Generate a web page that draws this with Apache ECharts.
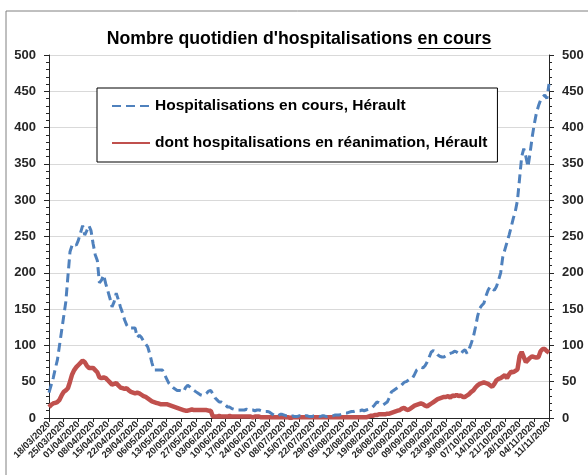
<!DOCTYPE html>
<html>
<head>
<meta charset="utf-8">
<script src="https://cdn.jsdelivr.net/npm/echarts@6/dist/echarts.min.js"></script>
<style>
html, body { margin: 0; padding: 0; background: #fff; }
#chart { width: 588px; height: 475px; }
</style>
</head>
<body>
<div id="chart"></div>
<script>
// daily values, 18/03/2020 -> 11/11/2020
var startDate = '2020-03-18';
var nbDays = 239;

var hospit = [
  35, 45, 55, 68, 80, 100, 120, 140, 160, 195,
  229, 238, 240, 238, 245, 255, 265, 252, 258, 265,
  258, 240, 225, 217, 186, 190, 197, 185, 175, 165,
  153, 160, 172, 163, 153, 145, 135, 128, 124, 124,
  124, 124, 111, 114, 111, 106, 102, 98, 88, 76,
  66, 66, 66, 66, 66, 60, 54, 48, 45, 42,
  40, 38, 38, 37, 36, 42, 45, 43, 40, 38,
  36, 34, 32, 31, 32, 34, 37, 38, 33, 28,
  25, 22, 22, 20, 18, 15, 15, 13, 12, 12,
  11, 11, 11, 11, 12, 11, 11, 11, 10, 11,
  11, 10, 10, 9, 9, 8, 6, 4, 3, 3,
  5, 5, 4, 3, 3, 2, 3, 2, 2, 3,
  3, 2, 3, 3, 2, 2, 3, 3, 3, 2,
  3, 3, 2, 3, 3, 3, 4, 4, 4, 5,
  6, 7, 7, 8, 9, 9, 10, 10, 10, 11,
  10, 11, 12, 14, 15, 18, 22, 21, 19, 18,
  20, 22, 28, 36, 38, 40, 42, 43, 46, 49,
  50, 52, 54, 55, 60, 66, 68, 70, 69, 72,
  77, 84, 91, 93, 90, 87, 85, 84, 84, 86,
  88, 89, 90, 92, 91, 89, 88, 92, 94, 89,
  95, 103, 112, 125, 140, 151, 155, 158, 168, 176,
  181, 178, 176, 181, 190, 200, 222, 232, 242, 252,
  263, 275, 285, 300, 330, 360, 371, 360, 346, 365,
  387, 405, 420, 430, 438, 442, 445, 440, 460
];

var reanim = [
  15, 18, 20, 21, 22, 25, 31, 36, 38, 41,
  50, 60, 66, 70, 73, 76, 79, 77, 72, 69,
  69, 69, 66, 63, 56, 55, 56, 55, 52, 49,
  46, 47, 48, 45, 42, 41, 40, 41, 38, 36,
  35, 34, 35, 34, 32, 30, 29, 27, 25, 23,
  22, 21, 20, 19, 19, 19, 19, 18, 17, 16,
  15, 14, 13, 12, 11, 10, 10, 11, 12, 11,
  11, 11, 11, 11, 11, 11, 10, 10, 2, 2,
  2, 3, 2, 2, 2, 2, 3, 2, 2, 2,
  2, 2, 2, 2, 2, 2, 2, 1, 2, 2,
  2, 1, 1, 1, 1, 1, 1, 1, 1, 1,
  1, 1, 1, 1, 1, 0, 1, 1, 1, 1,
  1, 1, 1, 1, 1, 1, 1, 1, 1, 1,
  1, 1, 1, 1, 1, 1, 1, 1, 1, 1,
  1, 1, 1, 1, 1, 1, 1, 1, 1, 1,
  1, 1, 2, 3, 3, 4, 4, 5, 5, 5,
  5, 6, 6, 7, 8, 9, 10, 11, 13, 14,
  12, 11, 13, 15, 17, 18, 19, 20, 19, 17,
  16, 18, 20, 22, 24, 26, 27, 28, 29, 29,
  30, 28, 31, 30, 32, 30, 31, 29, 29, 31,
  33, 36, 38, 42, 45, 47, 48, 49, 48, 47,
  45, 43, 47, 52, 54, 55, 57, 59, 55, 60,
  64, 63, 65, 67, 85, 91, 84, 77, 80, 83,
  85, 84, 83, 84, 92, 95, 95, 92, 90
];

var yTicks = [0, 50, 100, 150, 200, 250, 300, 350, 400, 450, 500];

var titleA = "Nombre quotidien d'hospitalisations ";
var titleB = 'en cours';
var nameHospit = 'Hospitalisations en cours, Hérault';
var nameReanim = 'dont hospitalisations en réanimation, Hérault';

function pad(n) { return n < 10 ? '0' + n : '' + n; }
var dates = [];
var d0 = new Date(startDate + 'T12:00:00Z');
for (var i = 0; i < nbDays; i++) {
  var d = new Date(d0.getTime() + i * 86400000);
  dates.push(pad(d.getUTCDate()) + '/' + pad(d.getUTCMonth() + 1) + '/' + d.getUTCFullYear());
}

// title sized so it spans roughly the same width as the original
var fontFam = '"Liberation Sans", Arial, sans-serif';
var cv = document.createElement('canvas').getContext('2d');
cv.font = 'bold 100px ' + fontFam;
var titleSize = Math.min(18, 100 * 385 / cv.measureText(titleA + titleB).width);
cv.font = 'bold ' + titleSize + 'px ' + fontFam;
var wA = cv.measureText(titleA).width;
var wB = cv.measureText(titleB).width;
var titleLeft = 299 - (wA + wB) / 2;

var chart = echarts.init(document.getElementById('chart'));

var yAxisCommon = {
  type: 'value',
  min: yTicks[0],
  max: yTicks[yTicks.length - 1],
  interval: 50,
  axisLine: { show: true, lineStyle: { color: '#262626', width: 1 } },
  axisTick: { show: true, length: 5, lineStyle: { color: '#262626' } },
  minorTick: { show: true, splitNumber: 5, length: 3, lineStyle: { color: '#262626' } },
  splitLine: { show: true, lineStyle: { color: '#d9d9d9', width: 1 } },
  axisLabel: {
    color: '#262626',
    margin: 13,
    fontFamily: fontFam,
    fontWeight: 'bold',
    fontSize: 13
  }
};

var option = {
  backgroundColor: '#fff',
  animation: false,
  title: {
    text: titleA + titleB,
    left: titleLeft,
    top: 30,
    padding: 0,
    textStyle: {
      fontFamily: fontFam,
      fontWeight: 'bold',
      fontSize: titleSize,
      color: '#000'
    }
  },
  graphic: [
    {
      type: 'rect',
      silent: true,
      shape: { x: 6, y: 11, width: 700, height: 600 },
      style: { fill: null, stroke: '#808080', lineWidth: 1 }
    },
    {
      type: 'line',
      silent: true,
      shape: { x1: titleLeft + wA, y1: 48.5, x2: titleLeft + wA + wB, y2: 48.5 },
      style: { stroke: '#000', lineWidth: 1 }
    }
  ],
  legend: {
    orient: 'vertical',
    left: 97,
    top: 88,
    padding: [10, 10, 11, 14],
    itemGap: 21,
    itemWidth: 38,
    itemHeight: 14,
    itemStyle: { opacity: 0 },
    backgroundColor: '#fff',
    borderColor: '#000',
    borderWidth: 1,
    textStyle: {
      fontFamily: fontFam,
      fontWeight: 'bold',
      fontSize: 15.5,
      color: '#000'
    },
    data: [nameHospit, nameReanim]
  },
  grid: { left: 49, right: 39, top: 55, bottom: 57 },
  xAxis: {
    type: 'category',
    data: dates,
    boundaryGap: false,
    axisLine: { lineStyle: { color: '#262626', width: 1 } },
    axisTick: { show: true, interval: 6, length: 4, lineStyle: { color: '#262626' } },
    axisLabel: {
      interval: 6,
      rotate: 45,
      margin: 5,
      color: '#262626',
      fontFamily: fontFam,
      fontWeight: 'bold',
      fontSize: 9.5
    },
    splitLine: { show: false }
  },
  yAxis: [
    Object.assign({}, yAxisCommon, { position: 'left' }),
    Object.assign({}, yAxisCommon, { position: 'right', splitLine: { show: false } })
  ],
  series: [
    {
      name: nameHospit,
      type: 'line',
      data: hospit,
      symbol: 'none',
      z: 3,
      lineStyle: { color: '#4f81bd', width: 3, type: [9, 5], cap: 'butt' },
      itemStyle: { color: '#4f81bd' }
    },
    {
      name: nameReanim,
      type: 'line',
      data: reanim,
      symbol: 'none',
      z: 2,
      lineStyle: { color: '#c0504d', width: 4.5 },
      itemStyle: { color: '#c0504d' }
    }
  ]
};

chart.setOption(option);
</script>
</body>
</html>
